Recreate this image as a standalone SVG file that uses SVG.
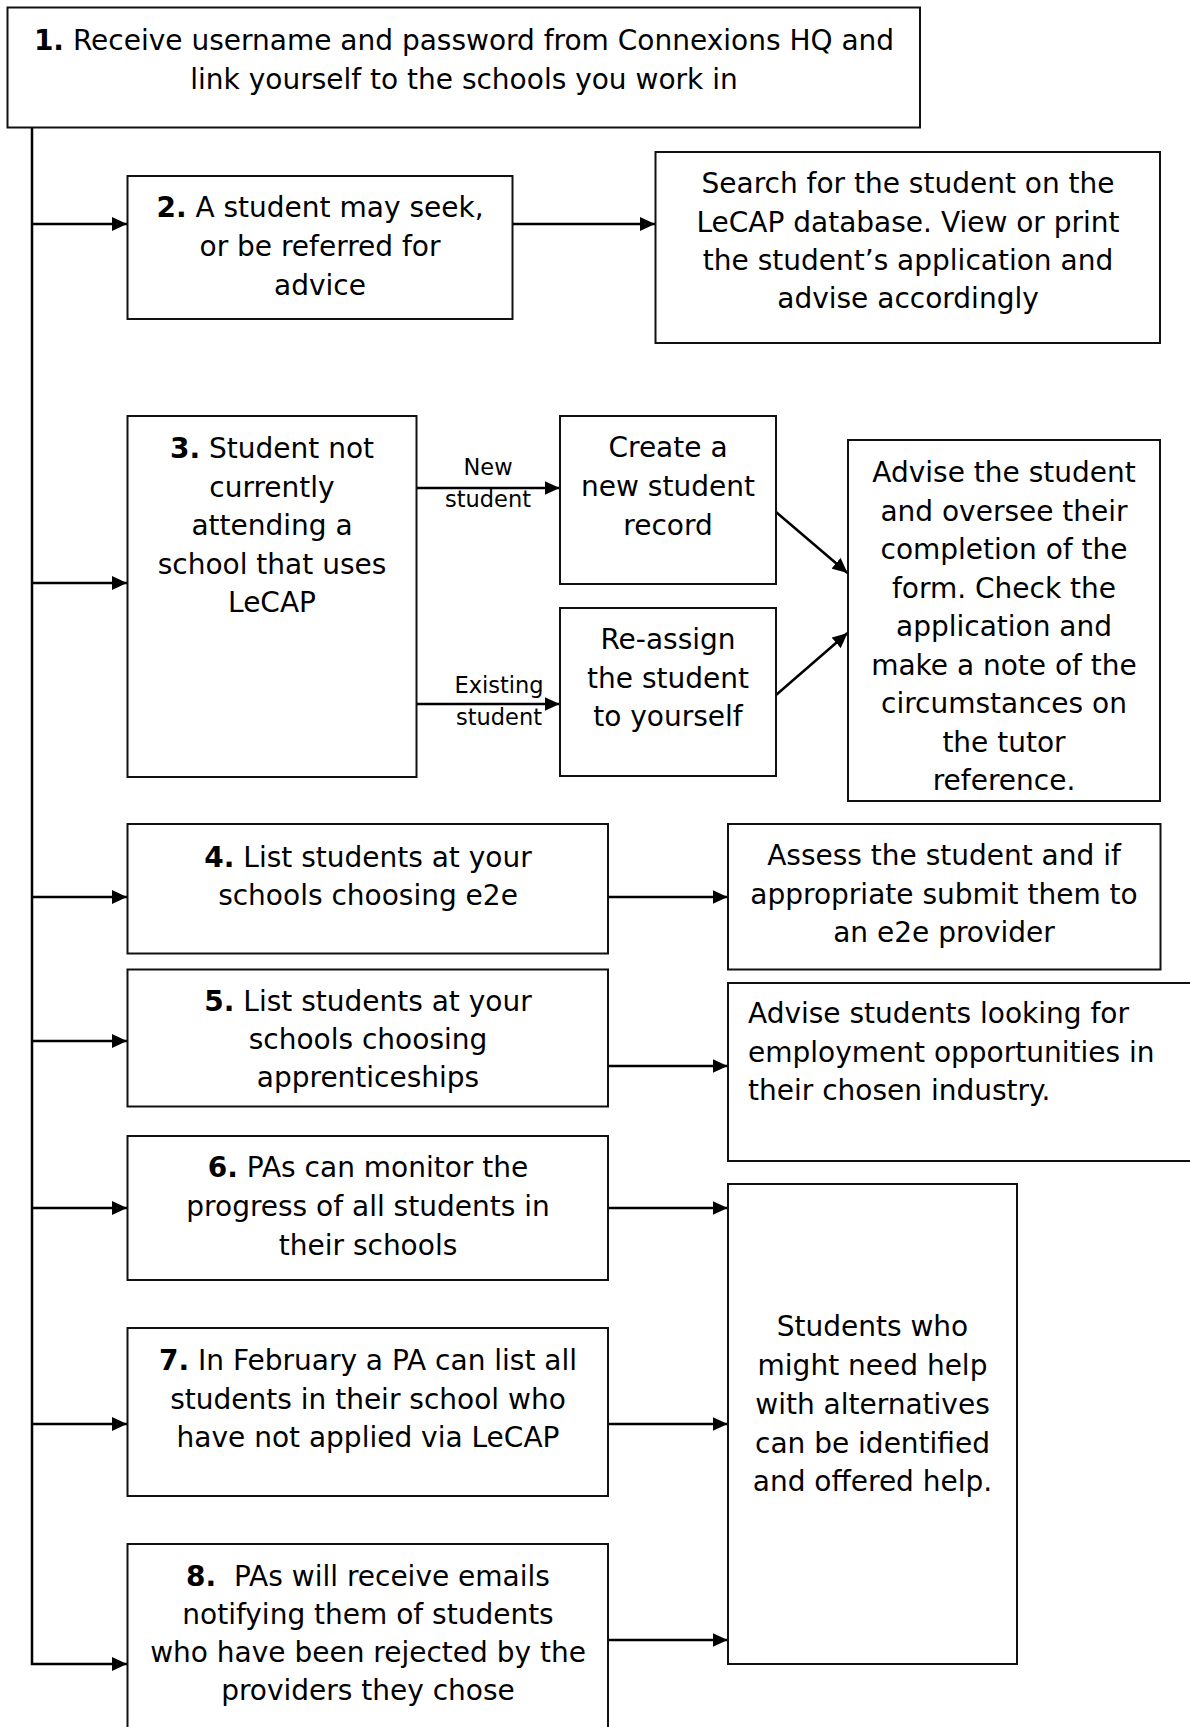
<svg xmlns="http://www.w3.org/2000/svg" width="1190" height="1727" viewBox="0 0 1190 1727">
<style>
.box{fill:#fff;stroke:#111;stroke-width:2}
.t{font-family:"DejaVu Sans",Verdana,sans-serif;font-size:28px;fill:#000;text-anchor:middle}
.tl{font-family:"DejaVu Sans",Verdana,sans-serif;font-size:28px;fill:#000;text-anchor:start}
.lab{font-family:"DejaVu Sans",Verdana,sans-serif;font-size:22.5px;fill:#000;text-anchor:middle}
.b{font-weight:bold}
.c{fill:none;stroke:#000;stroke-width:2.5}
</style>
<defs>
<marker id="ah" markerUnits="userSpaceOnUse" markerWidth="16" markerHeight="14" refX="15" refY="7" orient="auto">
<path d="M0,0 L15,7 L0,14 z" fill="#000"/>
</marker>
</defs>
<rect width="1190" height="1727" fill="#fff"/>
<g id="connectors">
<path class="c" d="M32,127.5 V1664 H127" marker-end="url(#ah)"/>
<path class="c" d="M32,224 H127" marker-end="url(#ah)"/>
<path class="c" d="M32,583 H127" marker-end="url(#ah)"/>
<path class="c" d="M32,897 H127" marker-end="url(#ah)"/>
<path class="c" d="M32,1041 H127" marker-end="url(#ah)"/>
<path class="c" d="M32,1208 H127" marker-end="url(#ah)"/>
<path class="c" d="M32,1424 H127" marker-end="url(#ah)"/>
<path class="c" d="M512.5,224 H655" marker-end="url(#ah)"/>
<path class="c" d="M416.5,488 H559.5" marker-end="url(#ah)"/>
<path class="c" d="M416.5,704 H559.5" marker-end="url(#ah)"/>
<path class="c" d="M776,512 L847.5,573" marker-end="url(#ah)"/>
<path class="c" d="M776,695 L847.5,633" marker-end="url(#ah)"/>
<path class="c" d="M608,897 H727.5" marker-end="url(#ah)"/>
<path class="c" d="M608,1066 H727.5" marker-end="url(#ah)"/>
<path class="c" d="M608,1208 H727.5" marker-end="url(#ah)"/>
<path class="c" d="M608,1424 H727.5" marker-end="url(#ah)"/>
<path class="c" d="M608,1640 H727.5" marker-end="url(#ah)"/>
<text class="lab" x="488" y="475">New</text>
<text class="lab" x="488" y="507">student</text>
<text class="lab" x="499" y="693">Existing</text>
<text class="lab" x="499" y="725">student</text>
</g>
<g id="n1">
<rect class="box" x="7.5" y="7.5" width="912.5" height="120"/>
<text class="t" x="464" y="50"><tspan class="b">1.</tspan> Receive username and password from Connexions HQ and</text>
<text class="t" x="464" y="89">link yourself to the schools you work in</text>
</g>
<g id="n2">
<rect class="box" x="127.5" y="176" width="385" height="143"/>
<text class="t" x="320" y="217"><tspan class="b">2.</tspan> A student may seek,</text>
<text class="t" x="320" y="256">or be referred for</text>
<text class="t" x="320" y="295">advice</text>
</g>
<g id="n-search">
<rect class="box" x="655.5" y="152" width="504.5" height="191"/>
<text class="t" x="908" y="193">Search for the student on the</text>
<text class="t" x="908" y="232">LeCAP database. View or print</text>
<text class="t" x="908" y="270">the student’s application and</text>
<text class="t" x="908" y="308">advise accordingly</text>
</g>
<g id="n3">
<rect class="box" x="127.5" y="416" width="289" height="361"/>
<text class="t" x="272" y="458"><tspan class="b">3.</tspan> Student not</text>
<text class="t" x="272" y="497">currently</text>
<text class="t" x="272" y="535">attending a</text>
<text class="t" x="272" y="574">school that uses</text>
<text class="t" x="272" y="612">LeCAP</text>
</g>
<g id="n-create">
<rect class="box" x="560" y="416" width="216" height="168"/>
<text class="t" x="668" y="457">Create a</text>
<text class="t" x="668" y="496">new student</text>
<text class="t" x="668" y="535">record</text>
</g>
<g id="n-reassign">
<rect class="box" x="560" y="608" width="216" height="168"/>
<text class="t" x="668" y="649">Re-assign</text>
<text class="t" x="668" y="688">the student</text>
<text class="t" x="668" y="726">to yourself</text>
</g>
<g id="n-advise">
<rect class="box" x="848" y="440" width="312" height="361"/>
<text class="t" x="1004" y="482">Advise the student</text>
<text class="t" x="1004" y="520.5">and oversee their</text>
<text class="t" x="1004" y="559">completion of the</text>
<text class="t" x="1004" y="597.5">form. Check the</text>
<text class="t" x="1004" y="636">application and</text>
<text class="t" x="1004" y="674.5">make a note of the</text>
<text class="t" x="1004" y="713">circumstances on</text>
<text class="t" x="1004" y="751.5">the tutor</text>
<text class="t" x="1004" y="790">reference.</text>
</g>
<g id="n4">
<rect class="box" x="127.5" y="824" width="480.5" height="129.5"/>
<text class="t" x="368" y="867"><tspan class="b">4.</tspan> List students at your</text>
<text class="t" x="368" y="905">schools choosing e2e</text>
</g>
<g id="n-assess">
<rect class="box" x="728" y="824" width="432.5" height="145.5"/>
<text class="t" x="944" y="865">Assess the student and if</text>
<text class="t" x="944" y="903.5">appropriate submit them to</text>
<text class="t" x="944" y="942">an e2e provider</text>
</g>
<g id="n5">
<rect class="box" x="127.5" y="969.5" width="480.5" height="137"/>
<text class="t" x="368" y="1011"><tspan class="b">5.</tspan> List students at your</text>
<text class="t" x="368" y="1049">schools choosing</text>
<text class="t" x="368" y="1087">apprenticeships</text>
</g>
<g id="n-employ">
<rect class="box" x="728" y="983" width="480" height="178"/>
<text class="tl" x="748" y="1023">Advise students looking for</text>
<text class="tl" x="748" y="1062">employment opportunities in</text>
<text class="tl" x="748" y="1099.5">their chosen industry.</text>
</g>
<g id="n6">
<rect class="box" x="127.5" y="1136" width="480.5" height="144"/>
<text class="t" x="368" y="1177"><tspan class="b">6.</tspan> PAs can monitor the</text>
<text class="t" x="368" y="1216">progress of all students in</text>
<text class="t" x="368" y="1255">their schools</text>
</g>
<g id="n7">
<rect class="box" x="127.5" y="1328" width="480.5" height="168"/>
<text class="t" x="368" y="1370"><tspan class="b">7.</tspan> In February a PA can list all</text>
<text class="t" x="368" y="1408.5">students in their school who</text>
<text class="t" x="368" y="1447">have not applied via LeCAP</text>
</g>
<g id="n8">
<rect class="box" x="127.5" y="1544" width="480.5" height="200"/>
<text class="t" x="368" y="1586" xml:space="preserve"><tspan class="b">8.</tspan>  PAs will receive emails</text>
<text class="t" x="368" y="1624">notifying them of students</text>
<text class="t" x="368" y="1662">who have been rejected by the</text>
<text class="t" x="368" y="1700">providers they chose</text>
</g>
<g id="n-students">
<rect class="box" x="728" y="1184" width="289" height="480"/>
<text class="t" x="872.5" y="1336">Students who</text>
<text class="t" x="872.5" y="1375">might need help</text>
<text class="t" x="872.5" y="1413.5">with alternatives</text>
<text class="t" x="872.5" y="1452.5">can be identified</text>
<text class="t" x="872.5" y="1491">and offered help.</text>
</g>
</svg>
